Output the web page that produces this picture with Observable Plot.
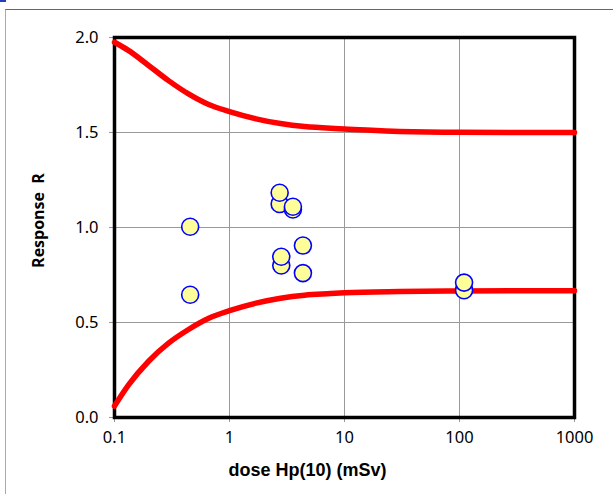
<!DOCTYPE html>
<html><head><meta charset="utf-8">
<script src="https://cdn.jsdelivr.net/npm/d3@7"></script>
<script src="https://cdn.jsdelivr.net/npm/@observablehq/plot@0.6"></script>
<style>
body{margin:0;background:#fff;}
#wrap{position:relative;width:613px;height:494px;overflow:hidden;}
#border{position:absolute;left:5px;top:9px;width:620px;height:500px;border-left:1.5px solid #aaa;border-top:1.5px solid #666;}
#corner{position:absolute;left:0;top:0;width:6px;height:2px;background:#1f3fbf;}
#chart{position:absolute;left:0;top:0;}
</style></head>
<body><div id="wrap"><div id="border"></div><div id="corner"></div><div id="chart"></div></div>
<script>
// Trumpet-curve limits
const curveDose  = [0.1, 0.132, 0.198, 0.295, 0.44, 0.66, 1.0, 1.7, 2.78, 4.5, 7.58, 10, 30, 100, 1000];
const upperLimit = [1.975, 1.932, 1.853, 1.773, 1.703, 1.647, 1.610, 1.572, 1.547, 1.531, 1.522, 1.519, 1.505, 1.501, 1.500];
const lowerLimit = [0.06, 0.17, 0.296, 0.391, 0.463, 0.522, 0.562, 0.602, 0.628, 0.644, 0.652, 0.656, 0.663, 0.666, 0.667];

// Measured responses
const pointDose     = [0.455, 0.455, 2.73, 2.73, 3.56, 3.56, 2.82, 2.82, 4.35, 4.35, 109.6, 109.6];
const pointResponse = [1.004, 0.646, 1.124, 1.183, 1.095, 1.109, 0.800, 0.846, 0.905, 0.760, 0.670, 0.710];

const xTicks = [0.1, 1, 10, 100, 1000];
const xTickLabels = ["0.1", "1", "10", "100", "1000"];
const yTicks = [0, 0.5, 1, 1.5, 2];
const yTickLabels = ["0.0", "0.5", "1.0", "1.5", "2.0"];
const xGrid = [1, 10, 100];
const yGrid = [0.5, 1, 1.5];
const xTitle = "dose Hp(10) (mSv)";
const yTitle = "Response\u00a0 R";

const upper = curveDose.map((d, i) => ({dose: d, r: upperLimit[i]}));
const lower = curveDose.map((d, i) => ({dose: d, r: lowerLimit[i]}));
const pts = pointDose.map((d, i) => ({dose: d, r: pointResponse[i]}));

const chart = Plot.plot({
  width: 613,
  height: 494,
  marginLeft: 114,
  marginRight: 39,
  marginTop: 37,
  marginBottom: 77,
  style: {fontFamily: "'Noto Sans', sans-serif", fontSize: "16px", background: "transparent", overflow: "visible"},
  x: {type: "log", domain: [0.1, 1000]},
  y: {domain: [0, 2]},
  marks: [
    Plot.gridX(xGrid, {stroke: "#999", strokeOpacity: 1, strokeWidth: 1}),
    Plot.gridY(yGrid, {stroke: "#999", strokeOpacity: 1, strokeWidth: 1}),
    Plot.axisX(xTicks, {tickSize: 5, stroke: "#999", tickPadding: 9, fontSize: 16.5,
      tickFormat: (d) => xTickLabels[xTicks.indexOf(d)], label: null}),
    Plot.axisY(yTicks, {tickSize: 5, stroke: "#999", tickPadding: 11, fontSize: 16.5,
      tickFormat: (d) => yTickLabels[yTicks.indexOf(d)], label: null}),
    Plot.frame({stroke: "black", strokeWidth: 3.5}),
    Plot.line(upper, {x: "dose", y: "r", stroke: "#ff0000", strokeWidth: 5.5, curve: "monotone-x"}),
    Plot.line(lower, {x: "dose", y: "r", stroke: "#ff0000", strokeWidth: 5.5, curve: "monotone-x"}),
    Plot.dot(pts, {x: "dose", y: "r", r: 8.5, fill: "#ffff99", stroke: "#0000ff", strokeWidth: 1.6}),
    Plot.text([xTitle], {frameAnchor: "bottom", dy: 58, dx: -37, fontWeight: "bold", fontSize: 18,
      fontFamily: "'Liberation Sans Narrow', sans-serif", fill: "black"}),
    Plot.text([yTitle], {frameAnchor: "left", textAnchor: "middle", rotate: -90, dx: -76, dy: -7, fontWeight: "bold", fontSize: 16,
      fontFamily: "'Open Sans', sans-serif", fill: "black"})
  ]
});
document.getElementById("chart").appendChild(chart);
</script>
</body></html>
